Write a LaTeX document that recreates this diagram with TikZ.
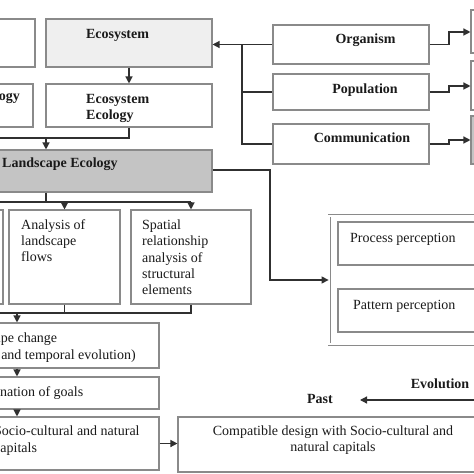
\documentclass[tikz,border=0pt]{standalone}
\usepackage{fontspec}
\setmainfont{Liberation Serif}
\usetikzlibrary{arrows.meta}
\definecolor{boxgray}{HTML}{8A8A8A}
\definecolor{lineblack}{HTML}{303030}
\definecolor{landfill}{HTML}{C4C4C4}
\definecolor{ecofill}{HTML}{EFEFEF}
\definecolor{textcol}{HTML}{1A1A1A}
\newcommand\myfs{\fontsize{14bp}{16.2bp}\selectfont}
\newcommand\myfsw{\fontsize{14bp}{17bp}\selectfont}
\begin{document}
\begin{tikzpicture}[x=1bp,y=-1bp,
  box/.style={draw=boxgray, line width=1.1bp, fill=white, inner sep=0pt, rectangle},
  conn/.style={draw=lineblack, line width=1.3bp},
  arr/.style={conn, -{Triangle[length=7bp,width=7bp]}},
  txt/.style={inner sep=0pt, text=textcol, font=\myfs},
  btxt/.style={inner sep=0pt, text=textcol, font=\myfs\bfseries}]
\useasboundingbox (0,0) rectangle (474,474);
\clip (0,0) rectangle (474,474);
% boxes
\node[box, minimum width=55bp, minimum height=48bp] (lb1) at (7.5,43) {};
\node[box, fill=ecofill, minimum width=166bp, minimum height=48bp] (eco) at (129,43) {};
\node[box, minimum width=53bp, minimum height=43bp] (lb2) at (6.5,105.5) {};
\node[box, minimum width=166bp, minimum height=43bp] (ecoeco) at (129,105.5) {};
\node[box, fill=landfill, minimum width=342bp, minimum height=42bp] (land) at (41,171) {};
\node[box, minimum width=156bp, minimum height=39bp] (org) at (351,44.5) {};
\node[box, minimum width=156bp, minimum height=36bp] (pop) at (351,92) {};
\node[box, minimum width=156bp, minimum height=40bp] (comm) at (351,144) {};
\node[box, minimum width=59bp, minimum height=43bp] (r1) at (500.5,31.5) {};
\node[box, minimum width=59bp, minimum height=49bp] (r2) at (500.5,85.5) {};
\node[box, fill=landfill, minimum width=59bp, minimum height=48bp] (r3) at (500.5,140) {};
\node[box, minimum width=103bp, minimum height=94bp] (lb3) at (-48.5,257) {};
\node[box, minimum width=111bp, minimum height=94bp] (ana) at (64.5,257) {};
\node[box, minimum width=120bp, minimum height=94bp] (spa) at (191,257) {};
\node[box, minimum width=309bp, minimum height=45bp] (lch) at (4.5,345.5) {};
\node[box, minimum width=309bp, minimum height=32bp] (goals) at (4.5,393) {};
\node[box, minimum width=309bp, minimum height=53bp] (cap) at (4.5,443.5) {};
\node[box, minimum width=312bp, minimum height=55bp] (compat) at (334,444.5) {};
\node[box, double, line width=0.8bp, double distance=1.4bp, minimum width=192bp, minimum height=128bp] (perc) at (425,280) {};
\node[box, minimum width=172bp, minimum height=43bp] (proc) at (424,243.5) {};
\node[box, minimum width=172bp, minimum height=43bp] (patt) at (424,310.5) {};
% texts
\node[btxt, anchor=base] (tEco) at (117.5,39) {Ecosystem};
\node[btxt, anchor=base east] (tLb2) at (20,101) {Ecology};
\node[btxt, anchor=north west, align=left, font=\fontsize{14bp}{15.5bp}\selectfont\bfseries] (tEcoEco) at (86,94.5) {Ecosystem\\Ecology};
\node[btxt, anchor=base west] (tLand) at (2,168) {Landscape Ecology};
\node[btxt, anchor=base] (tOrg) at (365.5,44) {Organism};
\node[btxt, anchor=base] (tPop) at (365,94) {Population};
\node[btxt, anchor=base] (tComm) at (362,143) {Communication};
\node[txt, anchor=north west, align=left] (tAna) at (21,219.5) {Analysis of\\landscape\\flows};
\node[txt, anchor=north west, align=left] (tSpa) at (142,219.7) {Spatial\\relationship\\analysis of\\structural\\elements};
\node[txt, anchor=base west] (tProc) at (350,242) {Process perception};
\node[txt, anchor=base west] (tPatt) at (353,309) {Pattern perception};
\node[txt, anchor=north west, align=left, font=\myfsw] (tLch) at (-46,332.4) {Landscape change\\(Spatial and temporal evolution)};
\node[txt, anchor=base west] (tGoals) at (-46,396) {Determination of goals};
\node[txt, anchor=north west, align=left, font=\myfsw] (tCap) at (-6,425.4) {Socio-cultural and natural\\capitals};
\node[txt, anchor=north, align=center] (tCompat) at (333,425.4) {Compatible design with Socio-cultural and\\natural capitals};
\node[btxt, anchor=base] (tEvo) at (440,388) {Evolution};
\node[btxt, anchor=base] (tPast) at (320,403) {Past};
% coordinates
\coordinate (j1) at (-10,138);
\coordinate (j2) at (46,138);
\coordinate (tr) at (242,0);
\coordinate (s1) at (449,32);
\coordinate (s2) at (449,86);
\coordinate (s3) at (449,140);
\coordinate (l1) at (270,170);
\coordinate (j3) at (46,202);
\coordinate (j3l) at (-10,202);
\coordinate (j4l) at (-10,313);
\coordinate (j4) at (17,313);
\coordinate (ev) at (480,400);
\coordinate (evtip) at (360,400);
% connectors
\draw[arr] (eco.south) -- (ecoeco.north);
\draw[conn] (ecoeco.south) |- (j1);
\draw[arr] (j2) -- (j2 |- land.north);
\draw[arr] (org.west) -- (eco.east |- org.west);
\draw[conn] (tr |- org.west) |- (comm.west);
\draw[conn] (tr |- pop.west) -- (pop.west);
\draw[arr] (org.east) -| (s1) -- (s1 -| r1.west);
\draw[arr] (pop.east) -| (s2) -- (s2 -| r2.west);
\draw[arr] (comm.east) -| (s3) -- (s3 -| r3.west);
\draw[arr] (l1 -| land.east) -- (l1) |- (perc.west);
\draw[conn] (land.south -| j3) -- (j3);
\draw[conn] (j3l) -- (j3 -| spa.north);
\draw[arr] (j3 -| ana.north) -- (ana.north);
\draw[arr] (j3 -| spa.north) -- (spa.north);
\draw[conn] (spa.south) |- (j4l);
\draw[conn] (ana.south) -- (ana.south |- j4l);
\draw[arr] (j4) -- (j4 |- lch.north);
\draw[arr] (lch.south -| j4) -- (goals.north -| j4);
\draw[arr] (goals.south -| j4) -- (cap.north -| j4);
\draw[arr] (cap.east) -- (compat.west |- cap.east);
\draw[arr] (ev) -- (evtip);
\end{tikzpicture}
\end{document}
